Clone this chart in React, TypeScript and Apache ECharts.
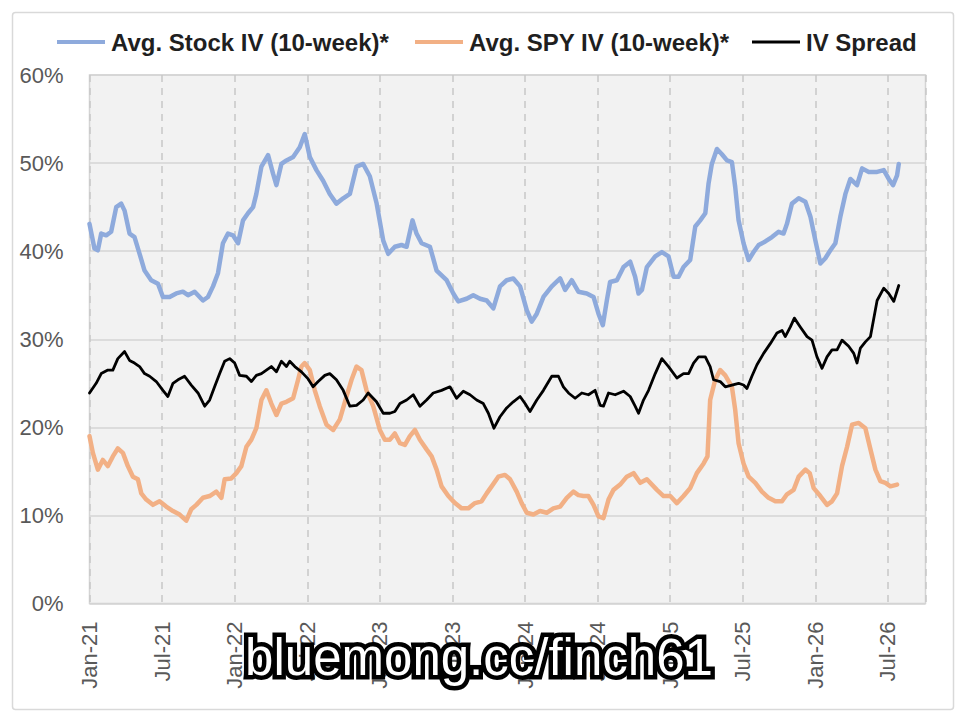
import { useEffect, useRef } from 'react';
import * as echarts from 'echarts';

// x values are months since Jan-21, y values are percent
const tickLabels = ['Jan-21', 'Jul-21', 'Jan-22', 'Jul-22', 'Jan-23', 'Jul-23', 'Jan-24', 'Jul-24', 'Jan-25', 'Jul-25', 'Jan-26', 'Jul-26'];
const seriesNames = ['Avg. Stock IV (10-week)*', 'Avg. SPY IV (10-week)*', 'IV Spread'];

const stockIV: [number, number][] = [
  [0, 43.1], [0.41, 40.3], [0.69, 40.1], [0.97, 42], [1.38, 41.8], [1.79, 42.2], [2.21, 45], [2.62, 45.4], [2.9, 44.6],
  [3.31, 42], [3.72, 41.6], [4.14, 39.7], [4.55, 37.8], [5.1, 36.7], [5.66, 36.3], [6.07, 34.8], [6.62, 34.8], [7.17, 35.2],
  [7.72, 35.4], [8.14, 35], [8.69, 35.4], [9.38, 34.4], [9.79, 34.8], [10.21, 36], [10.62, 37.5], [11.03, 40.9], [11.45, 42],
  [11.86, 41.8], [12.28, 40.9], [12.69, 43.5], [13.1, 44.3], [13.52, 45], [13.79, 46.5], [14.21, 49.6], [14.76, 50.9],
  [15.17, 48.8], [15.45, 47.5], [15.86, 49.9], [16.28, 50.3], [16.83, 50.7], [17.38, 51.8], [17.79, 53.3], [18.21, 50.7],
  [18.76, 49.2], [19.31, 48], [19.86, 46.5], [20.41, 45.4], [20.97, 46], [21.52, 46.5], [22.07, 49.6], [22.62, 49.9],
  [23.17, 48.5], [23.72, 45.5], [24.28, 41.2], [24.69, 39.7], [25.24, 40.5], [25.79, 40.7], [26.21, 40.5], [26.7, 43.5],
  [27.03, 42], [27.45, 40.9], [28.14, 40.5], [28.69, 37.8], [29.52, 36.7], [30.07, 35.2], [30.48, 34.3], [31.17, 34.6],
  [31.72, 35], [32.28, 34.6], [32.83, 34.4], [33.38, 33.5], [33.93, 36], [34.48, 36.7], [35.03, 36.9], [35.59, 36],
  [36.14, 33.3], [36.55, 32], [36.97, 32.9], [37.52, 34.8], [38.21, 36], [38.9, 36.9], [39.31, 35.6], [39.86, 36.7],
  [40.41, 35.4], [41.1, 35.2], [41.66, 34.8], [42.07, 32.9], [42.43, 31.6], [42.76, 34.4], [43.03, 36.5], [43.59, 36.7],
  [44.14, 38.2], [44.69, 38.8], [45.1, 37.1], [45.38, 35.2], [45.66, 35.6], [46.07, 38.2], [46.76, 39.4], [47.31, 39.9],
  [47.86, 39.4], [48.28, 37.1], [48.69, 37.1], [49.1, 38.2], [49.65, 39], [50.07, 42.8], [50.48, 43.5], [50.9, 44.3],
  [51.17, 47.7], [51.44, 49.9], [51.86, 51.6], [52.27, 51], [52.69, 50.3], [53.1, 50.1], [53.37, 47.3], [53.65, 43.5],
  [54.06, 40.9], [54.48, 39], [54.89, 39.9], [55.31, 40.7], [55.86, 41.1], [56.41, 41.6], [56.96, 42.2], [57.37, 42],
  [57.65, 43.1], [58.06, 45.4], [58.62, 46], [59.17, 45.6], [59.59, 43.9], [60.0, 41.2], [60.41, 38.6], [60.82, 39.2],
  [61.24, 40.1], [61.65, 40.9], [62.06, 43.9], [62.48, 46.5], [62.89, 48.2], [63.44, 47.5], [63.86, 49.4], [64.41, 49],
  [65.1, 49], [65.65, 49.2], [66.06, 48.2], [66.42, 47.5], [66.75, 48.6], [66.89, 49.9],
];

const spyIV: [number, number][] = [
  [0, 19], [0.28, 17.1], [0.69, 15.2], [1.1, 16.3], [1.52, 15.6], [1.93, 16.7], [2.34, 17.6], [2.76, 17.1], [3.17, 15.6],
  [3.59, 14.4], [4.0, 14.1], [4.28, 12.5], [4.69, 11.8], [5.24, 11.2], [5.79, 11.6], [6.34, 11], [6.9, 10.5], [7.45, 10.1],
  [8.0, 9.4], [8.41, 10.7], [8.83, 11.2], [9.38, 12], [9.93, 12.2], [10.48, 12.7], [10.9, 12], [11.17, 14.1], [11.72, 14.2],
  [12.14, 14.8], [12.55, 15.6], [12.97, 17.8], [13.38, 18.6], [13.79, 19.9], [14.21, 23.1], [14.62, 24.2], [15.03, 22.7],
  [15.45, 21.4], [15.86, 22.7], [16.28, 22.9], [16.83, 23.3], [17.24, 25.4], [17.52, 26.9], [17.79, 27.3], [18.21, 26.5],
  [18.62, 24.2], [19.03, 22.4], [19.59, 20.3], [20.14, 19.7], [20.69, 20.9], [21.24, 23.5], [21.66, 25.4], [22.07, 26.9],
  [22.48, 26.5], [22.9, 24.2], [23.45, 22.4], [24.0, 19.7], [24.41, 18.6], [24.83, 18.6], [25.24, 19.3], [25.66, 18.2],
  [26.07, 18], [26.48, 19], [26.9, 19.7], [27.31, 18.6], [27.86, 17.5], [28.28, 16.7], [28.69, 15.2], [29.1, 13.3],
  [29.66, 12.2], [30.21, 11.4], [30.76, 10.8], [31.31, 10.8], [31.86, 11.4], [32.41, 11.6], [32.83, 12.5], [33.24, 13.3],
  [33.79, 14.4], [34.34, 14.6], [34.76, 14.1], [35.31, 12.7], [35.72, 11.4], [36.14, 10.3], [36.69, 10.1], [37.24, 10.5],
  [37.79, 10.3], [38.34, 10.8], [38.9, 11], [39.45, 12], [40.0, 12.7], [40.41, 12.3], [40.83, 12.2], [41.24, 12.2],
  [41.66, 11.2], [42.07, 9.9], [42.48, 9.7], [42.9, 11.8], [43.31, 12.9], [43.86, 13.5], [44.41, 14.4], [44.97, 14.8],
  [45.52, 13.7], [46.07, 14.1], [46.9, 12.9], [47.45, 12.2], [48.0, 12.2], [48.55, 11.4], [49.1, 12.2], [49.65, 13.1],
  [50.2, 14.8], [50.76, 15.9], [51.08, 16.7], [51.3, 23.1], [51.72, 25.4], [52.13, 26.5], [52.55, 25.9], [53.1, 24.6],
  [53.37, 22], [53.65, 18.2], [54.06, 15.9], [54.48, 14.4], [55.03, 13.7], [55.58, 12.7], [56.13, 12], [56.69, 11.6],
  [57.24, 11.6], [57.65, 12.4], [58.2, 12.9], [58.62, 14.4], [59.17, 15.2], [59.53, 14.8], [59.86, 13.1], [60.41, 12.2],
  [60.96, 11.2], [61.37, 11.6], [61.79, 12.5], [62.2, 15.6], [62.62, 17.8], [63.03, 20.3], [63.58, 20.5], [64.13, 19.9],
  [64.55, 17.5], [64.96, 15.2], [65.37, 13.9], [65.79, 13.7], [66.2, 13.3], [66.75, 13.5],
];

const ivSpread: [number, number][] = [
  [0, 23.9], [0.55, 25], [0.97, 26.1], [1.52, 26.5], [1.93, 26.5], [2.34, 27.8], [2.9, 28.6], [3.31, 27.6], [3.72, 27.3],
  [4.14, 26.9], [4.55, 26.1], [4.97, 25.8], [5.52, 25.2], [6.07, 24.2], [6.48, 23.5], [6.9, 25], [7.31, 25.4], [7.86, 25.8],
  [8.41, 24.8], [8.97, 23.9], [9.52, 22.4], [9.93, 23.1], [10.34, 24.6], [10.76, 26.1], [11.17, 27.5], [11.59, 27.8],
  [12.0, 27.3], [12.41, 25.9], [12.97, 25.8], [13.38, 25.2], [13.79, 25.9], [14.21, 26.1], [14.62, 26.5], [15.03, 26.9],
  [15.45, 26.3], [15.86, 27.5], [16.28, 26.9], [16.55, 27.5], [16.97, 26.9], [17.52, 26.3], [18.07, 25.5], [18.48, 24.6],
  [18.9, 25.2], [19.45, 25.9], [19.86, 26.1], [20.41, 25.4], [20.97, 24.2], [21.52, 22.4], [22.07, 22.5], [22.62, 23.1],
  [23.03, 23.9], [23.72, 22.9], [24.28, 21.6], [24.83, 21.6], [25.24, 21.8], [25.66, 22.7], [26.21, 23.1], [26.76, 23.7],
  [27.31, 22.4], [27.86, 23.1], [28.41, 23.9], [29.1, 24.2], [29.79, 24.6], [30.34, 23.3], [30.9, 24.1], [31.45, 23.7],
  [32.0, 23.1], [32.55, 22.7], [32.97, 21.6], [33.43, 19.9], [33.93, 21.2], [34.48, 22.2], [35.03, 22.9], [35.59, 23.5],
  [36.0, 22.7], [36.41, 21.8], [36.97, 23.1], [37.52, 24.2], [38.21, 25.8], [38.76, 25.8], [39.17, 24.6], [39.59, 23.9],
  [40.14, 23.3], [40.69, 23.9], [41.24, 23.7], [41.79, 24.2], [42.21, 22.5], [42.48, 22.4], [42.9, 23.9], [43.45, 23.7],
  [44.14, 24.1], [44.69, 23.5], [45.1, 22.4], [45.38, 21.6], [45.79, 23.1], [46.21, 24.2], [46.76, 26.1], [47.31, 27.8],
  [47.86, 26.9], [48.55, 25.6], [49.1, 26.1], [49.52, 26.1], [49.93, 27.3], [50.34, 28], [50.9, 28], [51.3, 26.9],
  [51.58, 25.4], [52.13, 25.2], [52.55, 24.6], [53.1, 24.8], [53.65, 25], [54.06, 24.8], [54.34, 24.4], [54.75, 25.8],
  [55.17, 27.1], [55.72, 28.4], [56.27, 29.5], [56.82, 30.7], [57.24, 31], [57.51, 30.3], [57.93, 31.4], [58.26, 32.4],
  [58.75, 31.4], [59.31, 30.3], [59.72, 29.9], [60.13, 28], [60.55, 26.7], [60.96, 28], [61.37, 28.8], [61.79, 28.8],
  [62.2, 29.9], [62.75, 29.2], [63.17, 28.4], [63.44, 27.3], [63.72, 29], [64.13, 29.7], [64.55, 30.3], [65.1, 34.4],
  [65.65, 35.8], [66.06, 35.2], [66.48, 34.3], [66.89, 36.1],
];

const gray = '#595959';
const legendLeft = [57, 415, 752];

export default function App() {
  const containerRef = useRef<HTMLDivElement>(null);

  useEffect(() => {
    if (!containerRef.current) return;
    const chart = echarts.init(containerRef.current, undefined, { renderer: 'svg' });

    // one legend per entry so each can sit where the original put it
    const legends = seriesNames.map((name, i) => ({
      left: legendLeft[i],
      top: 30,
      padding: 0,
      icon: 'rect',
      itemWidth: 48,
      itemHeight: i === 2 ? 3 : 4,
      textStyle: { fontFamily: 'Liberation Sans', fontWeight: 'bold', fontSize: 24, color: '#1f1f1f', padding: [0, 0, 0, 1] },
      data: [name],
    }));

    chart.setOption({
      animation: false,
      backgroundColor: '#ffffff',
      legend: legends,
      grid: {
        left: 89.5,
        right: 33.5,
        top: 75,
        bottom: 117.5,
        show: true,
        backgroundColor: '#f2f2f2',
        borderColor: '#d4d4d4',
        borderWidth: 1.5,
      },
      xAxis: {
        type: 'value',
        min: 0,
        max: 69.1,
        interval: 6,
        axisLine: { show: false },
        axisTick: { show: false },
        axisLabel: {
          rotate: 90,
          margin: 18,
          fontFamily: 'Liberation Sans',
          fontSize: 22,
          color: gray,
          showMaxLabel: false,
          formatter: (v: number) => (v % 6 === 0 ? tickLabels[v / 6] ?? '' : ''),
        },
        splitLine: { show: true, lineStyle: { color: '#c8c8c8', width: 1.5, type: [7, 6] } },
      },
      yAxis: {
        type: 'value',
        min: 0,
        max: 60,
        interval: 10,
        axisLine: { show: false },
        axisTick: { show: false },
        axisLabel: { margin: 26, fontFamily: 'Liberation Sans', fontSize: 22, color: gray, formatter: '{value}%' },
        splitLine: { lineStyle: { color: '#d4d4d4', width: 1.5 } },
      },
      series: [
        {
          name: seriesNames[0],
          type: 'line',
          data: stockIV,
          symbol: 'none',
          color: '#8eaadc',
          lineStyle: { width: 4.5, cap: 'round', join: 'round' },
        },
        {
          name: seriesNames[1],
          type: 'line',
          data: spyIV,
          symbol: 'none',
          color: '#f2b085',
          lineStyle: { width: 4.5, cap: 'round', join: 'round' },
        },
        {
          name: seriesNames[2],
          type: 'line',
          data: ivSpread,
          symbol: 'none',
          color: '#000000',
          lineStyle: { width: 2.8, cap: 'round', join: 'round' },
        },
      ],
      graphic: [
        {
          type: 'rect',
          shape: { x: 12.5, y: 12.5, width: 941, height: 697, r: 3 },
          style: { fill: 'none', stroke: '#d9d9d9', lineWidth: 1.5 },
          silent: true,
          z: -1,
        },
        {
          type: 'text',
          x: 479,
          y: 657,
          z: 100,
          style: {
            text: 'bluemong.cc/finch61',
            fontFamily: 'Liberation Sans',
            fontSize: 51,
            fill: '#ffffff',
            stroke: '#000000',
            lineWidth: 9,
            strokeFirst: true,
            align: 'center',
            verticalAlign: 'middle',
          },
        },
      ],
    });

    return () => {
      chart.dispose();
    };
  }, []);

  return (
    <div
      ref={containerRef}
      style={{ position: 'absolute', left: 0, top: 0, width: 959, height: 721, background: '#fff' }}
    />
  );
}
